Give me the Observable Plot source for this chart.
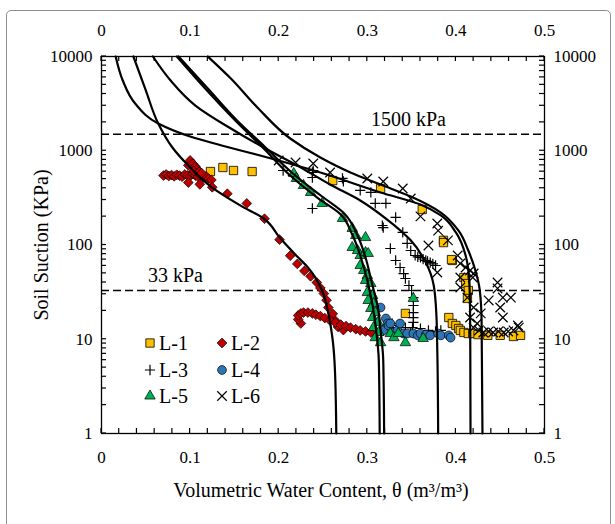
<!DOCTYPE html>
<html>
<head>
<meta charset="utf-8">
<script src="https://cdn.jsdelivr.net/npm/d3@7"></script>
<script src="https://cdn.jsdelivr.net/npm/@observablehq/plot@0.6"></script>
<style>
html,body{margin:0;padding:0;background:#fff;}
#wrap{position:relative;width:615px;height:524px;overflow:hidden;font-family:"Liberation Serif","Times New Roman",serif;color:#000;}
#frame{position:absolute;left:6px;top:10px;width:605px;height:520px;border:1px solid #8e8e8e;border-radius:5px;box-sizing:border-box;}
#chart{position:absolute;left:0;top:0;}
#overlay{position:absolute;left:0;top:0;pointer-events:none;}
#chart text{font-weight:normal;}
</style>
</head>
<body>
<div id="wrap">
  <div id="frame"></div>
  <div id="chart"></div>
  <svg id="overlay" width="615" height="524"></svg>
</div>
<script>
// ---------- data: [theta (m3/m3), suction (kPa)] ----------
const L1 = [[0.123,602],[0.137,664],[0.149,617],[0.170,602],[0.261,483],[0.315,398],[0.362,238],[0.386,112],[0.386,106],[0.396,68.5],[0.395,70],[0.409,45.2],[0.411,39],[0.414,32.9],[0.413,27.1],[0.343,18.8],[0.392,17.0],[0.396,14.7],[0.400,14.0],[0.403,13.0],[0.405,12.4],[0.409,11.8],[0.414,11.5],[0.419,11.5],[0.425,11.2],[0.436,11.0],[0.450,11.0],[0.465,10.7],[0.473,11.0]];
const L2 = [[0.070,546],[0.073,560],[0.076,540],[0.079,552],[0.082,535],[0.085,556],[0.088,545],[0.091,530],[0.094,560],[0.097,548],[0.100,538],[0.103,565],[0.106,545],[0.109,528],[0.112,550],[0.115,520],[0.118,535],[0.121,505],[0.124,490],
  [0.098,700],[0.100,790],[0.103,730],[0.106,680],[0.108,640],[0.104,610],[0.110,600],[0.113,580],
  [0.098,460],[0.111,440],[0.125,410],[0.142,350],[0.164,276],[0.184,190],[0.201,114],[0.213,77],[0.221,63],[0.229,53],[0.236,46.5],[0.243,40],[0.247,35],[0.251,30.5],[0.254,26],[0.256,21.7],[0.261,18.6],[0.264,15.7],[0.267,13.5],[0.273,12.5],
  [0.225,14.7],[0.222,16.2],[0.222,17.9],[0.225,18.8],[0.228,19.2],[0.233,19.2],[0.238,18.8],[0.242,18.2],[0.247,17.6],[0.252,16.8],[0.258,15.8],[0.264,15.0],[0.270,14.3],[0.276,13.8],[0.281,13.3],[0.287,12.8],[0.292,12.4],[0.298,12.1],[0.304,11.8]];
const L3 = [[0.205,617],[0.216,546],[0.238,588],[0.239,617],[0.238,520],[0.272,508],[0.273,472],[0.292,379],[0.304,361],[0.309,276],[0.321,276],[0.238,244],[0.317,161],[0.332,196],[0.318,153],[0.340,136],[0.326,91.8],[0.345,104],[0.332,68.5],[0.349,87.4],[0.354,77.4],[0.357,75],[0.360,73.7],[0.363,71],[0.366,68.5],[0.368,67],[0.371,65.2],[0.374,63],[0.377,60.6],[0.337,57.7],[0.341,49.8],[0.343,44.1],[0.347,37.2],[0.350,32.9],[0.352,27.7],[0.352,22.8],[0.352,19.2],[0.352,17.0],[0.352,15.1],[0.351,13.3],[0.323,15.8],[0.328,14.7],[0.335,14.0],[0.343,13.3],[0.360,13.0],[0.369,12.4],[0.377,12.1],[0.326,13.3],[0.337,12.4],[0.349,11.8],[0.383,12.4]];
const L4 = [[0.315,21.7],[0.318,12.4],[0.321,16.6],[0.323,14.7],[0.324,14.0],[0.326,14.7],[0.330,11.8],[0.334,12.4],[0.337,14.7],[0.341,11.5],[0.345,11.5],[0.352,11.5],[0.357,11.0],[0.360,11.5],[0.366,11.2],[0.371,11.0],[0.380,11.5],[0.383,11.0],[0.392,11.0],[0.394,10.4]];
const L5 = [[0.217,574],[0.220,508],[0.228,428],[0.236,361],[0.249,276],[0.272,191],[0.283,150],[0.287,126],[0.298,120],[0.283,94.1],[0.289,87.4],[0.292,77.4],[0.298,83.2],[0.301,81.2],[0.292,60.6],[0.296,53.6],[0.300,47.5],[0.298,42.0],[0.304,39.0],[0.300,31.3],[0.306,29.1],[0.301,25.8],[0.307,23.9],[0.304,21.2],[0.309,19.2],[0.306,17.0],[0.312,15.1],[0.307,13.3],[0.313,11.8],[0.309,10.4],[0.315,9.2],[0.326,11.5],[0.330,10.4],[0.335,11.5],[0.343,9.2],[0.363,10.2],[0.352,27.1]];
const L6 = [[0.200,788],[0.219,750],[0.239,732],[0.258,588],[0.300,508],[0.318,472],[0.340,398],[0.349,311],[0.360,201],[0.379,169],[0.380,142],[0.369,98.8],[0.391,112],[0.402,77.4],[0.405,63.6],[0.411,57.7],[0.416,53.6],[0.420,49.8],[0.379,51.1],[0.405,45.2],[0.419,45.2],[0.405,35.4],[0.447,40.0],[0.447,34.6],[0.437,25.8],[0.453,27.7],[0.462,27.7],[0.450,21.7],[0.453,17.0],[0.413,27.7],[0.420,21.7],[0.428,18.8],[0.416,17.0],[0.424,14.7],[0.470,14.0],[0.420,13.3],[0.426,12.4],[0.431,11.8],[0.437,12.1],[0.442,11.8],[0.448,12.1],[0.454,11.8],[0.459,12.1],[0.465,12.4],[0.471,13.3]];

// fitted curves
const fitA = [[0.016,10000],[0.024,5563],[0.038,3172],[0.064,1945],[0.100,1416],[0.140,1110],[0.179,890],[0.247,588],[0.315,361],[0.360,269],[0.383,206],[0.400,136],[0.411,77.4],[0.415,42],[0.416,20.2],[0.4165,1]];
const fitB = [[0.036,10000],[0.050,4360],[0.064,1945],[0.080,1083],[0.098,697],[0.125,407],[0.157,262],[0.183,191],[0.202,117],[0.220,77],[0.233,57.7],[0.249,32.9],[0.256,18.8],[0.261,9.7],[0.2635,4.66],[0.265,1]];
const fitC = [[0.058,10000],[0.078,5563],[0.106,3020],[0.146,1722],[0.185,1056],[0.225,664],[0.258,438],[0.292,297],[0.321,191],[0.349,112],[0.366,65.2],[0.375,37.2],[0.378,17.9],[0.379,7.6],[0.380,1]];
const fitD = [[0.085,10000],[0.117,4577],[0.151,2094],[0.182,1083],[0.213,546],[0.245,311],[0.270,211],[0.283,129],[0.292,77.4],[0.300,42],[0.306,22.8],[0.310,12.4],[0.313,5.95],[0.314,1]];
const fitE = [[0.087,10000],[0.120,4577],[0.153,2094],[0.184,1110],[0.216,574],[0.249,327],[0.274,216],[0.289,126],[0.298,73.7],[0.305,40],[0.312,21.7],[0.315,12.4],[0.318,5.95],[0.319,1]];
const fitF = [[0.120,10000],[0.146,5843],[0.176,2877],[0.213,1349],[0.247,848],[0.281,588],[0.315,438],[0.349,327],[0.383,221],[0.403,142],[0.414,87.4],[0.422,53.6],[0.427,32.9],[0.429,15.8],[0.430,1]];

const refLines = [1500, 33];
const refLabels = [{x:0.3465, y:1500, text:"1500 kPa"}, {x:0.0835, y:33, text:"33 kPa"}];
const xTicks = [0, 0.1, 0.2, 0.3, 0.4, 0.5];
const yTicks = [1, 10, 100, 1000, 10000];
const legendNames = ["L-1","L-2","L-3","L-4","L-5","L-6"];
const xTitle = "Volumetric Water Content, θ (m³/m³)";
const yTitle = "Soil Suction (KPa)";

// ---------- styles ----------
const styles = [
  {data:L1, symbol:"square",   r:4.7, fill:"#FFC000", stroke:"#000", sw:0.8},
  {data:L2, symbol:"diamond2", r:4.4, fill:"#C00000", stroke:"#000", sw:0.7},
  {data:L3, symbol:"plus",     r:3.4, fill:"none",    stroke:"#000", sw:1.2},
  {data:L4, symbol:"circle",   r:4.4, fill:"#2E75B6", stroke:"#000", sw:0.7},
  {data:L5, symbol:"triangle", r:3.9, fill:"#00B050", stroke:"#000", sw:0.7},
  {data:L6, symbol:"times",    r:4.4, fill:"none",    stroke:"#000", sw:1.2}
];

const W = 615, H = 524, mL = 101, mR = 71, mT = 56, mB = 91;

const xMinor = [];
for (let i = 0; i <= 25; i++) xMinor.push(+(i * 0.02).toFixed(2));
const yMinor = [];
for (let d = 0; d < 4; d++) for (let k = 1; k <= 9; k++) yMinor.push(k * Math.pow(10, d));
yMinor.push(10000);

const X = d => d[0], Y = d => d[1];
const fmt = d => String(d);
const font = 17;

const marks = [
  Plot.ruleY(refLines, {y: d => d, stroke: "#000", strokeWidth: 1.5, strokeDasharray: "8,4"}),
  Plot.text(refLabels, {x: "x", y: "y", text: "text", dy: -15, fontSize: 20, fill: "#000"}),
  ...styles.map(s => Plot.dot(s.data, {x: X, y: Y, symbol: s.symbol, r: s.r, fill: s.fill, stroke: s.stroke, strokeWidth: s.sw})),
  ...[fitA, fitB, fitC, fitD, fitE, fitF].map(c => Plot.line(c, {x: X, y: Y, stroke: "#000", strokeWidth: 2.2, curve: "monotone-y"})),
  Plot.frame({stroke: "#000", strokeWidth: 1.3}),
  Plot.axisX(xTicks, {anchor: "bottom", tickSize: 0, tickPadding: 17, tickFormat: fmt, fontSize: font, fontWeight: "normal", label: null}),
  Plot.axisX(xTicks, {anchor: "top", tickSize: 0, tickPadding: 21, tickFormat: fmt, fontSize: font, fontWeight: "normal", label: null}),
  Plot.axisY(yTicks, {anchor: "left", tickSize: 0, tickPadding: 9, tickFormat: fmt, fontSize: font, fontWeight: "normal", label: null}),
  Plot.axisY(yTicks, {anchor: "right", tickSize: 0, tickPadding: 9, tickFormat: fmt, fontSize: font, fontWeight: "normal", label: null})
];

const chart = Plot.plot({
  width: W, height: H,
  marginLeft: mL, marginRight: mR, marginTop: mT, marginBottom: mB,
  x: {domain: [0, 0.5]},
  y: {type: "log", domain: [1, 10000]},
  style: {fontFamily: '"Liberation Serif","Times New Roman",serif', fontSize: "17px", color: "#000", background: "transparent", overflow: "visible"},
  marks
});
document.getElementById("chart").appendChild(chart);

// ---------- overlay: inside ticks (via the chart's scales), axis titles, legend ----------
const ov = d3.select("#overlay");
const sx = chart.scale("x"), sy = chart.scale("y");
const x0 = sx.apply(0), x1 = sx.apply(0.5), y0 = sy.apply(1), y1 = sy.apply(10000);
const tk = 5;
const tg = ov.append("g").attr("stroke", "#000").attr("stroke-width", 1.2);
xMinor.forEach(v => {
  const px = sx.apply(v);
  tg.append("line").attr("x1", px).attr("x2", px).attr("y1", y0).attr("y2", y0 - tk);
  tg.append("line").attr("x1", px).attr("x2", px).attr("y1", y1).attr("y2", y1 + tk);
});
yMinor.forEach(v => {
  const py = sy.apply(v);
  tg.append("line").attr("x1", x0).attr("x2", x0 + tk).attr("y1", py).attr("y2", py);
  tg.append("line").attr("x1", x1).attr("x2", x1 - tk).attr("y1", py).attr("y2", py);
});

const ff = '"Liberation Serif","Times New Roman",serif';
ov.append("text").attr("x", 321).attr("y", 490).attr("dy", "0.35em").attr("text-anchor", "middle")
  .attr("font-family", ff).attr("font-size", 20).text(xTitle);
ov.append("text").attr("transform", "translate(41,245) rotate(-90)").attr("dy", "0.35em").attr("text-anchor", "middle")
  .attr("font-family", ff).attr("font-size", 20).text(yTitle);

const symMap = {square: d3.symbolSquare, diamond2: d3.symbolDiamond2, plus: d3.symbolPlus, circle: d3.symbolCircle, triangle: d3.symbolTriangle, times: d3.symbolTimes};
const colX = [150, 222], rowY = [343, 370, 396];
styles.forEach((s, i) => {
  const cx = colX[i % 2], cy = rowY[Math.floor(i / 2)];
  const g = ov.append("g").attr("transform", `translate(${cx},${cy})`);
  g.append("path")
    .attr("d", d3.symbol(symMap[s.symbol], s.r * s.r * Math.PI)())
    .attr("fill", s.fill).attr("stroke", s.stroke).attr("stroke-width", s.sw);
  g.append("text").attr("x", 9).attr("y", 0).attr("dy", "0.35em")
    .attr("font-family", ff).attr("font-size", 20)
    .text(legendNames[i]);
});
</script>
</body>
</html>
